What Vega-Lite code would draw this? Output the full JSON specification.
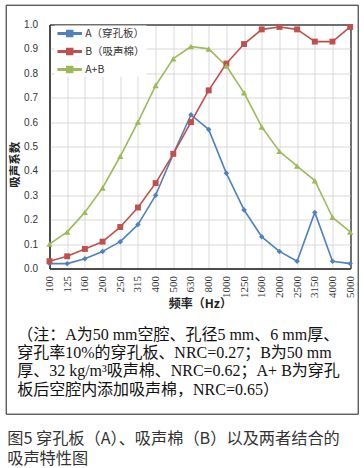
{
  "$schema": "https://vega.github.io/schema/vega-lite/v6.json",
  "padding": {"left": 5.5, "top": 4.5, "right": 0, "bottom": 6},
  "background": "white",
  "title": {
    "text": ["图5 穿孔板（A）、吸声棉（B）以及两者结合的", "吸声特性图"],
    "orient": "bottom", "anchor": "start", "frame": "bounds", "offset": 16.5, "dx": 1.5,
    "font": "Noto Sans CJK SC", "fontSize": 16.2, "fontWeight": "normal", "color": "#333333",
    "lineHeight": 19.5, "align": "left"
  },
  "data": {"values": [
    {"f":"100","s":"A（穿孔板）","v":0.02},{"f":"125","s":"A（穿孔板）","v":0.02},{"f":"160","s":"A（穿孔板）","v":0.04},{"f":"200","s":"A（穿孔板）","v":0.07},{"f":"250","s":"A（穿孔板）","v":0.11},{"f":"315","s":"A（穿孔板）","v":0.18},{"f":"400","s":"A（穿孔板）","v":0.30},{"f":"500","s":"A（穿孔板）","v":0.47},{"f":"630","s":"A（穿孔板）","v":0.63},{"f":"800","s":"A（穿孔板）","v":0.57},{"f":"1000","s":"A（穿孔板）","v":0.39},{"f":"1250","s":"A（穿孔板）","v":0.24},{"f":"1600","s":"A（穿孔板）","v":0.13},{"f":"2000","s":"A（穿孔板）","v":0.07},{"f":"2500","s":"A（穿孔板）","v":0.03},{"f":"3150","s":"A（穿孔板）","v":0.23},{"f":"4000","s":"A（穿孔板）","v":0.03},{"f":"5000","s":"A（穿孔板）","v":0.02},
    {"f":"100","s":"B（吸声棉）","v":0.03},{"f":"125","s":"B（吸声棉）","v":0.05},{"f":"160","s":"B（吸声棉）","v":0.08},{"f":"200","s":"B（吸声棉）","v":0.11},{"f":"250","s":"B（吸声棉）","v":0.17},{"f":"315","s":"B（吸声棉）","v":0.25},{"f":"400","s":"B（吸声棉）","v":0.35},{"f":"500","s":"B（吸声棉）","v":0.47},{"f":"630","s":"B（吸声棉）","v":0.60},{"f":"800","s":"B（吸声棉）","v":0.73},{"f":"1000","s":"B（吸声棉）","v":0.84},{"f":"1250","s":"B（吸声棉）","v":0.92},{"f":"1600","s":"B（吸声棉）","v":0.98},{"f":"2000","s":"B（吸声棉）","v":0.99},{"f":"2500","s":"B（吸声棉）","v":0.98},{"f":"3150","s":"B（吸声棉）","v":0.93},{"f":"4000","s":"B（吸声棉）","v":0.93},{"f":"5000","s":"B（吸声棉）","v":0.99},
    {"f":"100","s":"A+B","v":0.10},{"f":"125","s":"A+B","v":0.15},{"f":"160","s":"A+B","v":0.23},{"f":"200","s":"A+B","v":0.33},{"f":"250","s":"A+B","v":0.46},{"f":"315","s":"A+B","v":0.60},{"f":"400","s":"A+B","v":0.75},{"f":"500","s":"A+B","v":0.86},{"f":"630","s":"A+B","v":0.91},{"f":"800","s":"A+B","v":0.90},{"f":"1000","s":"A+B","v":0.83},{"f":"1250","s":"A+B","v":0.72},{"f":"1600","s":"A+B","v":0.58},{"f":"2000","s":"A+B","v":0.48},{"f":"2500","s":"A+B","v":0.42},{"f":"3150","s":"A+B","v":0.36},{"f":"4000","s":"A+B","v":0.21},{"f":"5000","s":"A+B","v":0.15}
  ]},
  "vconcat": [
    {
      "width": 300.7,
      "height": 244,
      "title": {
        "text": ["（注：A为50 mm空腔、孔径5 mm、6 mm厚、", "穿孔率10%的穿孔板、NRC=0.27；B为50 mm", "厚、32 kg/m³吸声棉、NRC=0.62；A+ B为穿孔", "板后空腔内添加吸声棉，NRC=0.65）"],
        "orient": "bottom", "anchor": "start", "frame": "group", "offset": -88, "dx": -32.3,
        "font": "Liberation Serif, Noto Sans CJK SC", "fontSize": 16, "fontWeight": "normal",
        "color": "#111111", "lineHeight": 18.4, "align": "left"
      },
      "layer": [
        {
          "mark": {"type": "line", "strokeJoin": "round"},
          "encoding": {
            "x": {
              "field": "f", "type": "ordinal",
              "scale": {"type": "point", "domain": ["100","125","160","200","250","315","400","500","630","800","1000","1250","1600","2000","2500","3150","4000","5000"], "padding": 0},
              "axis": {
                "orient": "bottom", "grid": true,
                "gridColor": {"condition": {"test": "datum.value === '100' || datum.value === '5000'", "value": "#404040"}, "value": "#d9d9d9"},
                "gridWidth": {"condition": {"test": "datum.value === '100' || datum.value === '5000'", "value": 1.5}, "value": 1},
                "domain": true, "domainColor": "#404040", "domainWidth": 1.5, "ticks": false,
                "labelAngle": 270, "labelPadding": 7, "labelOverlap": false,
                "labelFont": "Liberation Serif", "labelFontSize": 11, "labelColor": "#333333",
                "title": "频率（Hz）", "titleFont": "Noto Sans CJK SC", "titleFontSize": 12,
                "titleFontWeight": "bold", "titleColor": "#222222", "titlePadding": 1
              }
            },
            "y": {
              "field": "v", "type": "quantitative",
              "scale": {"domain": [0, 1], "nice": false, "zero": false},
              "axis": {
                "orient": "left", "grid": true,
                "gridColor": {"condition": {"test": "datum.value === 0 || datum.value === 1", "value": "#404040"}, "value": "#d9d9d9"},
                "gridWidth": {"condition": {"test": "datum.value === 0 || datum.value === 1", "value": 1.5}, "value": 1},
                "domain": true, "domainColor": "#404040", "domainWidth": 1.5, "ticks": false,
                "tickCount": 10,
                "format": ".1f", "labelPadding": 12, "labelOverlap": false,
                "labelFont": "Liberation Sans", "labelFontSize": 10, "labelColor": "#333333",
                "title": "吸声系数", "titleFont": "Noto Sans CJK SC", "titleFontSize": 11.5,
                "titleFontWeight": "bold", "titleColor": "#222222", "titlePadding": 3, "titleY": 139.7
              }
            },
            "color": {
              "field": "s", "type": "nominal",
              "scale": {"domain": ["A（穿孔板）", "B（吸声棉）", "A+B"], "range": ["#4F81BD", "#C0504D", "#9BBB59"]},
              "legend": {
                "orient": "none", "legendX": 5, "legendY": 1, "title": null,
                "fillColor": "white", "padding": 1, "symbolSize": 144, "labelOffset": 15.7,
                "symbolType": "M-0.72,-0.12H3.12V0.12H-0.72ZM0.7,-0.5H1.7V0.5H0.7Z",
                "symbolOpacity": 1,
                "rowPadding": 5, "labelFont": "Noto Sans CJK SC", "labelFontSize": 10.5,
                "labelColor": "#333333", "zindex": 1
              }
            },
            "strokeWidth": {
              "field": "s", "type": "ordinal",
              "scale": {"domain": ["A（穿孔板）", "B（吸声棉）", "A+B"], "range": [1.6, 1.6, 2.6]},
              "legend": null
            }
          }
        },
        {
          "mark": {"type": "point", "filled": true, "opacity": 1},
          "encoding": {
            "x": {
              "field": "f", "type": "ordinal",
              "scale": {"type": "point", "domain": ["100","125","160","200","250","315","400","500","630","800","1000","1250","1600","2000","2500","3150","4000","5000"], "padding": 0},
              "axis": null
            },
            "y": {"field": "v", "type": "quantitative", "scale": {"domain": [0, 1], "nice": false, "zero": false}, "axis": null},
            "color": {"field": "s", "type": "nominal"},
            "shape": {
              "field": "s", "type": "nominal",
              "scale": {"domain": ["A（穿孔板）", "B（吸声棉）", "A+B"], "range": ["diamond", "square", "triangle-up"]},
              "legend": null
            },
            "size": {
              "field": "s", "type": "ordinal",
              "scale": {"domain": ["A（穿孔板）", "B（吸声棉）", "A+B"], "range": [30, 40, 75]},
              "legend": null
            }
          }
        },
        {
          "data": {"values": [{}]},
          "mark": {"type": "rect", "fill": "transparent", "stroke": "#1a1a1a", "strokeWidth": 1},
          "encoding": {
            "x": {"datum": 0, "type": "quantitative", "scale": {"domain": [0, 1], "range": [-43.3, 308.7], "nice": false, "zero": false}, "axis": null},
            "x2": {"datum": 1},
            "y": {"datum": 0, "type": "quantitative", "scale": {"domain": [0, 1], "range": [-19.3, 389.7], "nice": false, "zero": false}, "axis": null},
            "y2": {"datum": 1}
          }
        }
      ],
      "resolve": {"scale": {"x": "independent", "y": "independent"}}
    }
  ],
  "resolve": {"legend": {"color": "independent"}},
  "config": {
    "view": {"stroke": null},
    "axis": {"labelOverlap": false}
  }
}
